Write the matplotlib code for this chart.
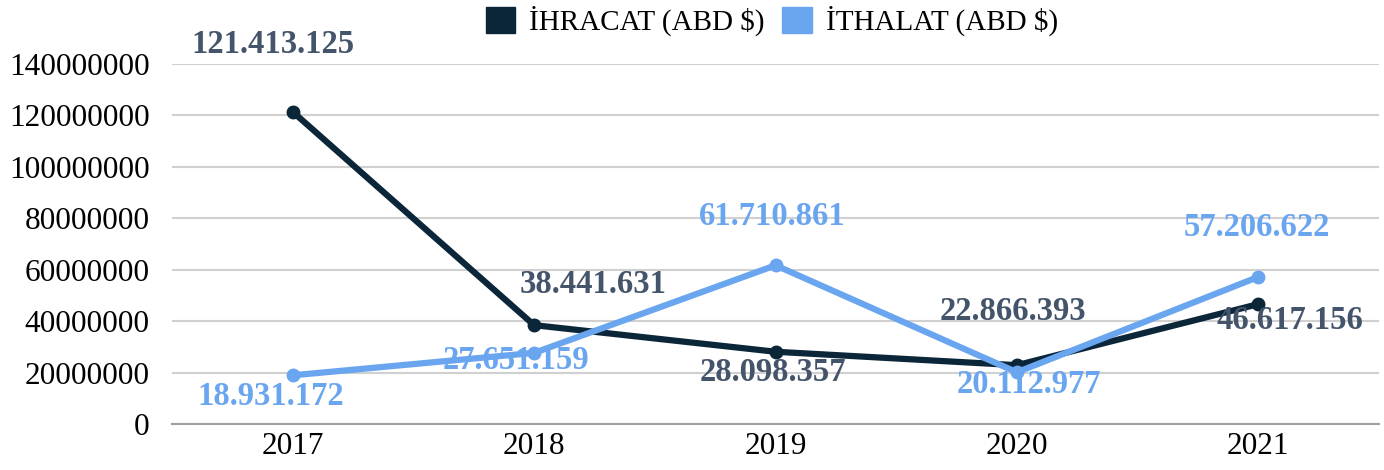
import matplotlib
matplotlib.use("Agg")
import matplotlib.pyplot as plt

years = ["2017", "2018", "2019", "2020", "2021"]
ihracat = [121413125, 38441631, 28098357, 22866393, 46617156]
ithalat = [18931172, 27651159, 61710861, 20112977, 57206622]
ihracat_labels = ["121.413.125", "38.441.631", "28.098.357", "22.866.393", "46.617.156"]
ithalat_labels = ["18.931.172", "27.651.159", "61.710.861", "20.112.977", "57.206.622"]

# label offsets in pixels (manual placement as in the original)
ihr_off = [(-20, 67), (59, 41), (-3, -21), (-4, 54), (32, -16)]
ith_off = [(-22, -21), (-18, -8), (-3, 49), (12, -12), (-1, 49)]

DARK = "#0b2639"
LIGHT = "#6aa5ef"
DARK_LBL = "#44546a"

plt.rcParams["font.family"] = ["Liberation Serif", "DejaVu Serif"]

fig = plt.figure(figsize=(13.84, 4.70), dpi=100)
ax = fig.add_axes([172 / 1384, (470 - 424) / 470, (1379 - 172) / 1384, (424 - 64) / 470])

x = list(range(len(years)))
ax.plot(x, ihracat, color=DARK, lw=4.5, marker="o", ms=9, label="İHRACAT (ABD $)",
        solid_capstyle="round", zorder=3)
ax.plot(x, ithalat, color=LIGHT, lw=4.5, marker="o", ms=9, label="İTHALAT (ABD $)",
        solid_capstyle="round", zorder=4)

for i in x:
    dx, dy = ihr_off[i]
    ax.annotate(ihracat_labels[i], (i, ihracat[i]), xytext=(dx * 0.72, dy * 0.72),
                textcoords="offset points", ha="center", va="center",
                fontsize=23.5, fontweight="bold", color=DARK_LBL, zorder=5)
    dx, dy = ith_off[i]
    ax.annotate(ithalat_labels[i], (i, ithalat[i]), xytext=(dx * 0.72, dy * 0.72),
                textcoords="offset points", ha="center", va="center",
                fontsize=23.5, fontweight="bold", color=LIGHT, zorder=5)

ax.set_xlim(-0.5, 4.5)
ax.set_ylim(0, 140000000)
ax.set_yticks(range(0, 140000001, 20000000))
ax.set_yticklabels([str(v) for v in range(0, 140000001, 20000000)])
ax.set_xticks(x)
ax.set_xticklabels(years)
ax.tick_params(axis="both", length=0, labelsize=22.5)
ax.tick_params(axis="y", pad=16)
ax.tick_params(axis="x", pad=6)
ax.grid(axis="y", color="#d0d0d0", lw=1.5)
ax.set_axisbelow(True)
for s in ["top", "right", "left"]:
    ax.spines[s].set_visible(False)
ax.spines["bottom"].set_color("#a0a0a0")
ax.spines["bottom"].set_linewidth(1.5)

handles = [plt.Rectangle((0, 0), 1, 1, color=DARK), plt.Rectangle((0, 0), 1, 1, color=LIGHT)]
fig.legend(handles, ["İHRACAT (ABD $)", "İTHALAT (ABD $)"], loc="center",
           bbox_to_anchor=(772 / 1384, 1 - 21 / 470), ncol=2, frameon=False,
           fontsize=21, handlelength=1.0, handleheight=1.0, columnspacing=0.6,
           handletextpad=0.5)

fig.savefig("out.png", dpi=100)
